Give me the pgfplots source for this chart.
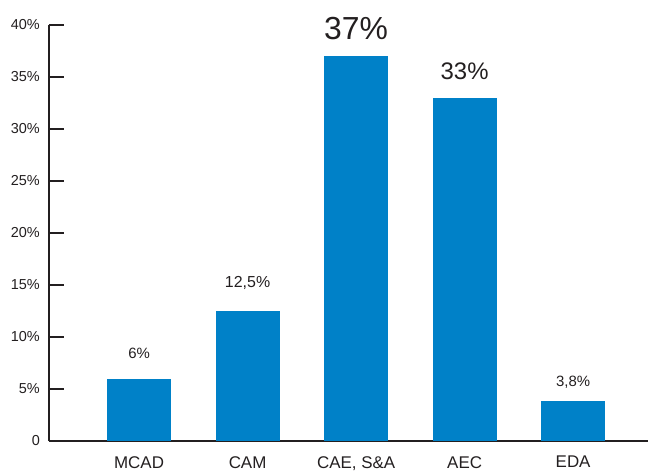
\documentclass[border=0pt]{standalone}
\usepackage{pgfplots}
\pgfplotsset{compat=1.18}
\usepackage{fontspec}
\setmainfont{Liberation Sans}
\usetikzlibrary{calc}
\definecolor{barblue}{HTML}{0081C8}
\definecolor{txt}{HTML}{231F20}

\begin{document}
\begin{tikzpicture}
\begin{axis}[
    scale only axis,
    width=599bp, height=416bp,
    xmin=-0.83, xmax=4.69,
    ymin=0, ymax=40,
    clip=false,
    axis x line=bottom, axis y line=left,
    axis line style={-, line width=1.6bp, txt},
    ybar, bar width=64bp, bar shift=0pt,
    ytick={0,5,...,40},
    yticklabels={0,5\%,10\%,15\%,20\%,25\%,30\%,35\%,40\%},
    yticklabel style={font=\fontsize{14.5}{14.5}\selectfont, text=txt, inner sep=0pt, xshift=-9bp},
    xtick={0,...,4},
    xticklabels={MCAD,CAM,{CAE, S\&A},AEC,EDA},
    xticklabel style={font=\fontsize{17}{17}\selectfont, text=txt, inner sep=0pt, yshift=-15bp},
    x tick style={draw=none},
    tick align=inside,
    major tick length=15bp,
    y tick style={line width=1.6bp, txt},
    /pgf/number format/assume math mode=true,
]
\addplot[fill=barblue, draw=none, nodes near coords={6\%},
  nodes near coords style={font=\fontsize{15}{15}\selectfont, text=txt, anchor=center, yshift=25bp}]
  coordinates {(0,6)};
\addplot[fill=barblue, draw=none, nodes near coords={12,5\%},
  nodes near coords style={font=\fontsize{16}{16}\selectfont, text=txt, anchor=center, yshift=28bp}]
  coordinates {(1,12.5)};
\addplot[fill=barblue, draw=none, nodes near coords={37\%},
  nodes near coords style={font=\fontsize{32}{32}\selectfont, text=txt, anchor=center, yshift=28bp}]
  coordinates {(2,37)};
\addplot[fill=barblue, draw=none, nodes near coords={33\%},
  nodes near coords style={font=\fontsize{24}{24}\selectfont, text=txt, anchor=center, yshift=27bp}]
  coordinates {(3,33)};
\addplot[fill=barblue, draw=none, nodes near coords={3,8\%},
  nodes near coords style={font=\fontsize{15}{15}\selectfont, text=txt, anchor=center, yshift=19bp}]
  coordinates {(4,3.8)};
\coordinate (bl) at (rel axis cs:0,0);
\coordinate (tr) at (rel axis cs:1,1);
\end{axis}
\pgfresetboundingbox
\path[use as bounding box] ($(bl)+(-49bp,-33bp)$) rectangle ($(tr)+(0,25bp)$);
\end{tikzpicture}
\end{document}
